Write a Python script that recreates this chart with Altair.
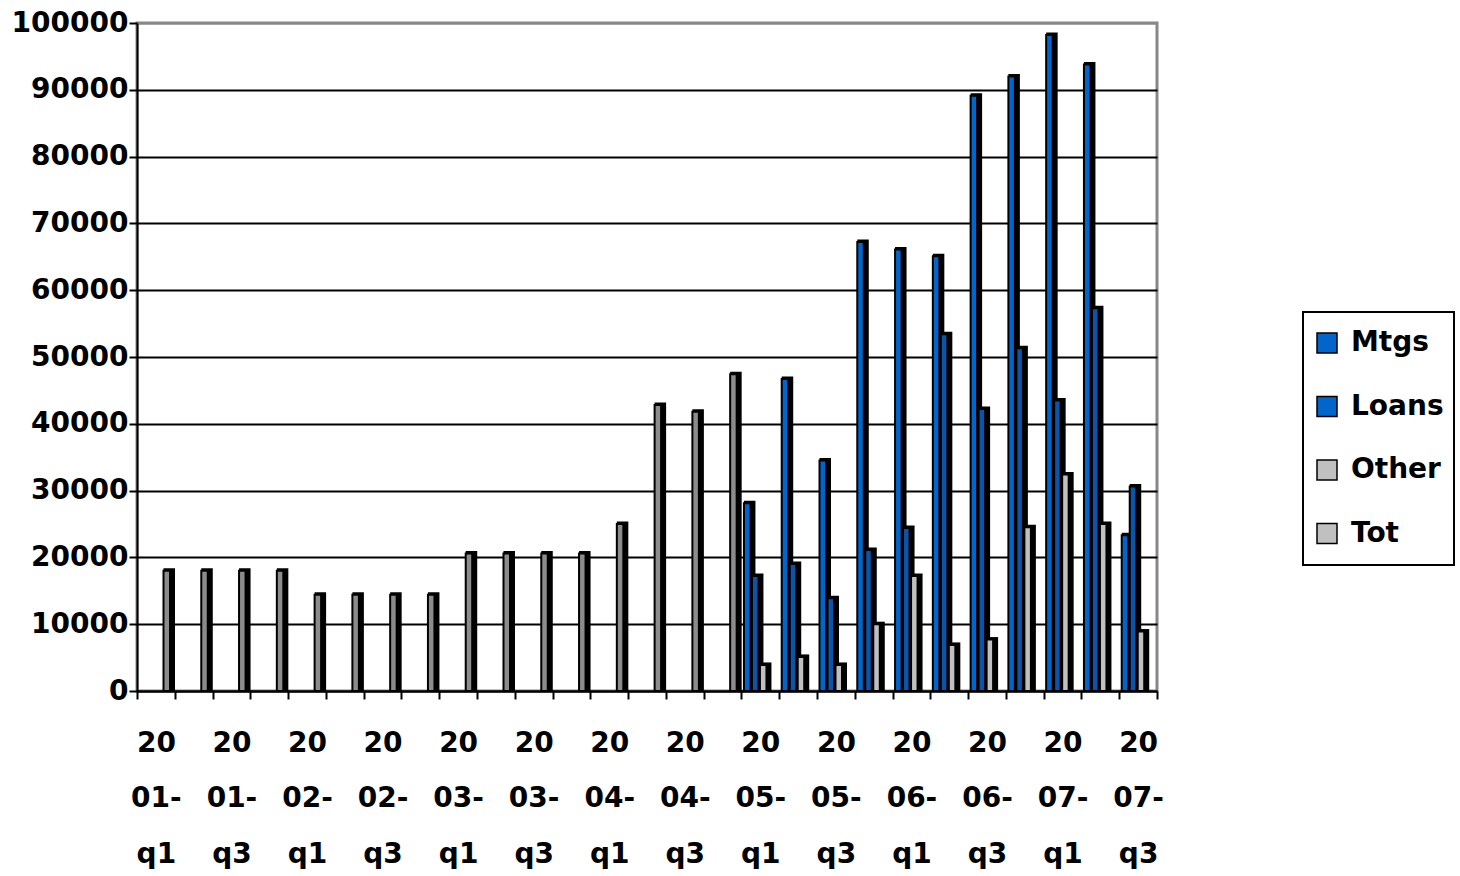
import altair as alt
import pandas as pd

# Quarterly volumes by category
QUARTERS = [
    "2001-q1", "2001-q2", "2001-q3", "2001-q4",
    "2002-q1", "2002-q2", "2002-q3", "2002-q4",
    "2003-q1", "2003-q2", "2003-q3", "2003-q4",
    "2004-q1", "2004-q2", "2004-q3", "2004-q4",
    "2005-q1", "2005-q2", "2005-q3", "2005-q4",
    "2006-q1", "2006-q2", "2006-q3", "2006-q4",
    "2007-q1", "2007-q2", "2007-q3",
]
SERIES = ["Mtgs", "Loans", "Other", "Tot"]

MTGS = [None, None, None, None, None, None, None, None,
        None, None, None, None, None, None, None, None,
        28100, 46700, 34500, 67200, 66100, 65100, 89100, 92000,
        98200, 93800, 23300]
LOANS = [None, None, None, None, None, None, None, None,
         None, None, None, None, None, None, None, None,
         17200, 19000, 13900, 21100, 24400, 53400, 42200, 51300,
         43500, 57300, 30600]
OTHER = [None, None, None, None, None, None, None, None,
         None, None, None, None, None, None, None, None,
         3900, 5100, 3900, 10000, 17200, 6900, 7700, 24500,
         32400, 25000, 8900]
TOT = [18000, 18000, 18000, 18000, 14400, 14400, 14400, 14400,
       20600, 20600, 20600, 20600, 25000, 42800, 41800, 47400,
       None, None, None, None, None, None, None, None,
       None, None, None]

Y_TICKS = list(range(0, 100001, 10000))

BAR_COLORS = ["#0066cc", "#0a55a8", "#c0c0c0", "#8c8c8c"]
KEY_COLORS = ["#0066cc", "#0066cc", "#c0c0c0", "#c0c0c0"]
FONT = "DejaVu Sans"
FONT_SIZE = 28

# plot geometry (pixels)
PLOT_W, PLOT_H = 1020, 668
UNIT = PLOT_W / len(QUARTERS)          # pixels per quarter
SLOT0, SLOT_STEP = 2.5, 8.0            # first bar offset and spacing inside a quarter
FRONT_W, DEPTH = 6.5, 5.0              # bar face width and 3-D side depth

rows = []
for k, (name, vals) in enumerate(zip(SERIES, [MTGS, LOANS, OTHER, TOT])):
    for i, (q, v) in enumerate(zip(QUARTERS, vals)):
        if v is None:
            continue
        left = i + (SLOT0 + k * SLOT_STEP) / UNIT
        rows.append({
            "quarter": q, "series": name, "value": v, "base": 0,
            "left": left,
            "front": left + FRONT_W / UNIT,
            "side": left + (FRONT_W + DEPTH) / UNIT,
        })
df = pd.DataFrame(rows)

xq = alt.Scale(domain=[0, len(QUARTERS)], nice=False, zero=False)
yq = alt.Scale(domain=[0, 100000], nice=False)

y_axis = alt.Axis(
    values=Y_TICKS, title=None, format="d",
    labelFont=FONT, labelFontSize=FONT_SIZE, labelFontWeight="bold",
    labelColor="black", labelPadding=1,
    tickColor="black", tickSize=8, tickWidth=2,
    domainColor="black", domainWidth=2,
    grid=True, gridWidth=2,
    gridColor=alt.condition("datum.value >= 100000", alt.value("#888888"), alt.value("black")),
)

base = alt.Chart(df)

# dark 3-D side and top of every bar
sides = base.mark_rect(color="black", yOffset=-2.5).encode(
    x=alt.X("left:Q", scale=xq, axis=None),
    x2="side:Q",
    y=alt.Y("value:Q", scale=yq, axis=y_axis),
    y2="base:Q",
)

# coloured front faces (fill domain listed last-to-first so it stays apart from the key scale)
fronts = base.mark_rect(stroke="black", strokeWidth=2).encode(
    x=alt.X("left:Q", scale=xq, axis=None),
    x2="front:Q",
    y=alt.Y("value:Q", scale=yq, axis=y_axis),
    y2="base:Q",
    fill=alt.Fill("series:N",
                  scale=alt.Scale(domain=SERIES[::-1], range=BAR_COLORS[::-1]),
                  legend=None),
)

# legend carrier: zero-size symbols, only the legend is visible
key = alt.Chart(pd.DataFrame({"series": SERIES})).mark_square(
    size=0, stroke="black", strokeWidth=1.5, filled=True, opacity=1
).encode(
    color=alt.Color(
        "series:N",
        scale=alt.Scale(domain=SERIES, range=KEY_COLORS),
        legend=alt.Legend(title=None, symbolType="square"),
    ),
)

label_expr = (
    "(substring(datum.value, 5) == 'q1' || substring(datum.value, 5) == 'q3') ? "
    "[substring(datum.value, 0, 2), substring(datum.value, 2, 5), substring(datum.value, 5)] : ''"
)

x_axis = alt.Axis(
    orient="bottom", title=None, tickBand="extent", labelExpr=label_expr,
    labelAngle=0, labelFont=FONT, labelFontSize=FONT_SIZE, labelFontWeight="bold",
    labelLineHeight=55.5, labelBaseline="top", labelPadding=30,
    labelOverlap=False, labelColor="black",
    tickColor="black", tickSize=8, tickWidth=2,
    domainColor="black", domainWidth=2, grid=False,
)

quarter_axis = alt.Chart(pd.DataFrame({"quarter": QUARTERS})).mark_tick(opacity=0).encode(
    x=alt.X("quarter:N", sort=QUARTERS,
            scale=alt.Scale(type="band", paddingInner=0, paddingOuter=0),
            axis=x_axis),
)

chart = (
    alt.layer(alt.layer(sides, fronts, key), quarter_axis)
    .resolve_scale(x="independent")
    .properties(
        width=PLOT_W, height=PLOT_H,
        padding={"left": 137, "top": 23, "right": 303, "bottom": 185},
        autosize=alt.AutoSizeParams(type="none"),
    )
    .configure(font=FONT)
    .configure_view(stroke="#888888", strokeWidth=3)
    .configure_legend(
        orient="none", legendX=1166, legendY=289,
        padding=10, strokeColor="black", strokeWidth=2, fillColor="white",
        symbolSize=400, symbolStrokeColor="black", symbolStrokeWidth=1.5,
        symbolOpacity=1, clipHeight=42,
        labelFont=FONT, labelFontSize=FONT_SIZE, labelFontWeight="bold",
        labelColor="black", labelOffset=10, rowPadding=21.5,
    )
)

chart.save("out.html", embed_options={"renderer": "svg", "actions": False})
